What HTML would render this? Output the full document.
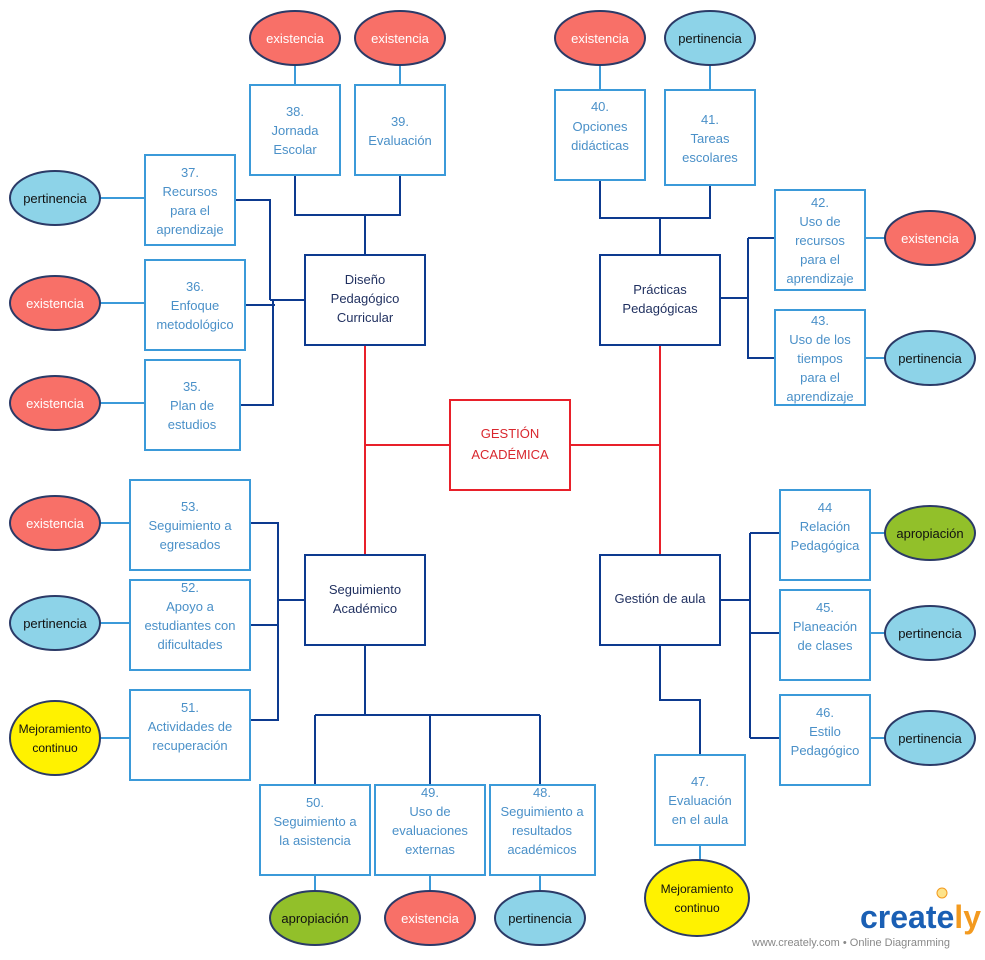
<!DOCTYPE html>
<html><head><meta charset="utf-8"><style>
body{margin:0;background:#fff}
svg text{font-family:"Liberation Sans",sans-serif}
.b{fill:#fff;stroke:#3b9ad9;stroke-width:2}
.bt{fill:#4a90c8;font-size:13px;text-anchor:middle}
.d{fill:#fff;stroke:#0d3a8f;stroke-width:2}
.dt{fill:#1f2f5f;font-size:13px;text-anchor:middle}
.dl{stroke:#0d3a8f;stroke-width:2;fill:none}
.rl{stroke:#e8202a;stroke-width:2;fill:none}
.ll{stroke:#3b9ad9;stroke-width:2;fill:none}
.e{stroke:#2b3a67;stroke-width:2}
.et{font-size:13px;text-anchor:middle}
</style></head><body>
<svg width="985" height="955" xmlns="http://www.w3.org/2000/svg">
<path class="rl" d="M365 345V555M660 345V555M365 445H450M570 445H660"/>
<path class="dl" d="M295 175V215H400V175M365 215V255M305 300H270M235 200H270V300M245 305H275M240 405H273V300"/>
<path class="dl" d="M600 180V218H710V185M660 218V255M720 298H748M748 238H775M748 238V358H775"/>
<path class="dl" d="M305 600H278M250 523H278V720H250M250 625H278"/>
<path class="dl" d="M365 645V715M315 715H540M315 715V785M430 715V785M540 715V785"/>
<path class="dl" d="M720 600H750M750 533V738M750 533H780M750 633H780M750 738H780M660 645V700H700V755"/>
<path class="ll" d="M295 65V85M400 65V85M600 65V90M710 65V90M100 198H145M100 303H145M100 403H145M865 238H885M865 358H885M100 523H130M100 623H130M100 738H130M870 533H885M870 633H885M870 738H885M315 875V891M430 875V891M540 875V891M700 845V860"/>
<rect class="b" x="250" y="85" width="90" height="90"/>
<text class="bt"><tspan x="295" y="116">38.</tspan><tspan x="295" y="135">Jornada</tspan><tspan x="295" y="154">Escolar</tspan></text>
<rect class="b" x="355" y="85" width="90" height="90"/>
<text class="bt"><tspan x="400" y="126">39.</tspan><tspan x="400" y="145">Evaluación</tspan></text>
<rect class="b" x="555" y="90" width="90" height="90"/>
<text class="bt"><tspan x="600" y="111">40.</tspan><tspan x="600" y="131">Opciones</tspan><tspan x="600" y="150">didácticas</tspan></text>
<rect class="b" x="665" y="90" width="90" height="95"/>
<text class="bt"><tspan x="710" y="124">41.</tspan><tspan x="710" y="143">Tareas</tspan><tspan x="710" y="162">escolares</tspan></text>
<rect class="b" x="145" y="155" width="90" height="90"/>
<text class="bt"><tspan x="190" y="177">37.</tspan><tspan x="190" y="196">Recursos</tspan><tspan x="190" y="215">para el</tspan><tspan x="190" y="234">aprendizaje</tspan></text>
<rect class="b" x="145" y="260" width="100" height="90"/>
<text class="bt"><tspan x="195" y="291">36.</tspan><tspan x="195" y="310">Enfoque</tspan><tspan x="195" y="329">metodológico</tspan></text>
<rect class="b" x="145" y="360" width="95" height="90"/>
<text class="bt"><tspan x="192" y="391">35.</tspan><tspan x="192" y="410">Plan de</tspan><tspan x="192" y="429">estudios</tspan></text>
<rect class="d" x="305" y="255" width="120" height="90"/>
<text class="dt"><tspan x="365" y="284">Diseño</tspan><tspan x="365" y="303">Pedagógico</tspan><tspan x="365" y="322">Curricular</tspan></text>
<rect class="d" x="600" y="255" width="120" height="90"/>
<text class="dt"><tspan x="660" y="294">Prácticas</tspan><tspan x="660" y="313">Pedagógicas</tspan></text>
<rect x="450" y="400" width="120" height="90" fill="#fff" stroke="#e8202a" stroke-width="2"/>
<text class="et" fill="#d9272e" font-size="16"><tspan x="510" y="438">GESTIÓN</tspan><tspan x="510" y="459">ACADÉMICA</tspan></text>
<rect class="b" x="775" y="190" width="90" height="100"/>
<text class="bt"><tspan x="820" y="207">42.</tspan><tspan x="820" y="226">Uso de</tspan><tspan x="820" y="245">recursos</tspan><tspan x="820" y="264">para el</tspan><tspan x="820" y="283">aprendizaje</tspan></text>
<rect class="b" x="775" y="310" width="90" height="95"/>
<text class="bt"><tspan x="820" y="325">43.</tspan><tspan x="820" y="344">Uso de los</tspan><tspan x="820" y="363">tiempos</tspan><tspan x="820" y="382">para el</tspan><tspan x="820" y="401">aprendizaje</tspan></text>
<rect class="b" x="130" y="480" width="120" height="90"/>
<text class="bt"><tspan x="190" y="511">53.</tspan><tspan x="190" y="530">Seguimiento a</tspan><tspan x="190" y="549">egresados</tspan></text>
<rect class="b" x="130" y="580" width="120" height="90"/>
<text class="bt"><tspan x="190" y="592">52.</tspan><tspan x="190" y="611">Apoyo a</tspan><tspan x="190" y="630">estudiantes con</tspan><tspan x="190" y="649">dificultades</tspan></text>
<rect class="b" x="130" y="690" width="120" height="90"/>
<text class="bt"><tspan x="190" y="712">51.</tspan><tspan x="190" y="731">Actividades de</tspan><tspan x="190" y="750">recuperación</tspan></text>
<rect class="d" x="305" y="555" width="120" height="90"/>
<text class="dt"><tspan x="365" y="594">Seguimiento</tspan><tspan x="365" y="613">Académico</tspan></text>
<rect class="d" x="600" y="555" width="120" height="90"/>
<text class="dt"><tspan x="660" y="603">Gestión de aula</tspan></text>
<rect class="b" x="780" y="490" width="90" height="90"/>
<text class="bt"><tspan x="825" y="512">44</tspan><tspan x="825" y="531">Relación</tspan><tspan x="825" y="550">Pedagógica</tspan></text>
<rect class="b" x="780" y="590" width="90" height="90"/>
<text class="bt"><tspan x="825" y="612">45.</tspan><tspan x="825" y="631">Planeación</tspan><tspan x="825" y="650">de clases</tspan></text>
<rect class="b" x="780" y="695" width="90" height="90"/>
<text class="bt"><tspan x="825" y="717">46.</tspan><tspan x="825" y="736">Estilo</tspan><tspan x="825" y="755">Pedagógico</tspan></text>
<rect class="b" x="655" y="755" width="90" height="90"/>
<text class="bt"><tspan x="700" y="786">47.</tspan><tspan x="700" y="805">Evaluación</tspan><tspan x="700" y="824">en el aula</tspan></text>
<rect class="b" x="260" y="785" width="110" height="90"/>
<text class="bt"><tspan x="315" y="807">50.</tspan><tspan x="315" y="826">Seguimiento a</tspan><tspan x="315" y="845">la asistencia</tspan></text>
<rect class="b" x="375" y="785" width="110" height="90"/>
<text class="bt"><tspan x="430" y="797">49.</tspan><tspan x="430" y="816">Uso de</tspan><tspan x="430" y="835">evaluaciones</tspan><tspan x="430" y="854">externas</tspan></text>
<rect class="b" x="490" y="785" width="105" height="90"/>
<text class="bt"><tspan x="542" y="797">48.</tspan><tspan x="542" y="816">Seguimiento a</tspan><tspan x="542" y="835">resultados</tspan><tspan x="542" y="854">académicos</tspan></text>
<g class="e">
<ellipse cx="295" cy="38" rx="45" ry="27" fill="#f87068"/>
<ellipse cx="400" cy="38" rx="45" ry="27" fill="#f87068"/>
<ellipse cx="600" cy="38" rx="45" ry="27" fill="#f87068"/>
<ellipse cx="710" cy="38" rx="45" ry="27" fill="#8dd3e8"/>
<ellipse cx="55" cy="198" rx="45" ry="27" fill="#8dd3e8"/>
<ellipse cx="55" cy="303" rx="45" ry="27" fill="#f87068"/>
<ellipse cx="55" cy="403" rx="45" ry="27" fill="#f87068"/>
<ellipse cx="930" cy="238" rx="45" ry="27" fill="#f87068"/>
<ellipse cx="930" cy="358" rx="45" ry="27" fill="#8dd3e8"/>
<ellipse cx="55" cy="523" rx="45" ry="27" fill="#f87068"/>
<ellipse cx="55" cy="623" rx="45" ry="27" fill="#8dd3e8"/>
<ellipse cx="55" cy="738" rx="45" ry="37" fill="#fff200"/>
<ellipse cx="930" cy="533" rx="45" ry="27" fill="#92c02a"/>
<ellipse cx="930" cy="633" rx="45" ry="27" fill="#8dd3e8"/>
<ellipse cx="930" cy="738" rx="45" ry="27" fill="#8dd3e8"/>
<ellipse cx="315" cy="918" rx="45" ry="27" fill="#92c02a"/>
<ellipse cx="430" cy="918" rx="45" ry="27" fill="#f87068"/>
<ellipse cx="540" cy="918" rx="45" ry="27" fill="#8dd3e8"/>
<ellipse cx="697" cy="898" rx="52" ry="38" fill="#fff200"/>
</g>
<g class="et">
<text x="295" y="43" fill="#fff">existencia</text>
<text x="400" y="43" fill="#fff">existencia</text>
<text x="600" y="43" fill="#fff">existencia</text>
<text x="710" y="43" fill="#111">pertinencia</text>
<text x="55" y="203" fill="#111">pertinencia</text>
<text x="55" y="308" fill="#fff">existencia</text>
<text x="55" y="408" fill="#fff">existencia</text>
<text x="930" y="243" fill="#fff">existencia</text>
<text x="930" y="363" fill="#111">pertinencia</text>
<text x="55" y="528" fill="#fff">existencia</text>
<text x="55" y="628" fill="#111">pertinencia</text>
<text fill="#111" font-size="12"><tspan x="55" y="733">Mejoramiento</tspan><tspan x="55" y="752">continuo</tspan></text>
<text x="930" y="538" fill="#111">apropiación</text>
<text x="930" y="638" fill="#111">pertinencia</text>
<text x="930" y="743" fill="#111">pertinencia</text>
<text x="315" y="923" fill="#111">apropiación</text>
<text x="430" y="923" fill="#fff">existencia</text>
<text x="540" y="923" fill="#111">pertinencia</text>
<text fill="#111" font-size="12"><tspan x="697" y="893">Mejoramiento</tspan><tspan x="697" y="912">continuo</tspan></text>
</g>
<text x="860" y="928" font-size="32" font-weight="bold" fill="#1a5fb4">create<tspan fill="#f39a1f">ly</tspan></text>
<circle cx="942" cy="893" r="5" fill="#fde38a" stroke="#f39a1f"/>
<text x="752" y="946" font-size="11" fill="#888">www.creately.com • Online Diagramming</text>
</svg>
</body></html>
